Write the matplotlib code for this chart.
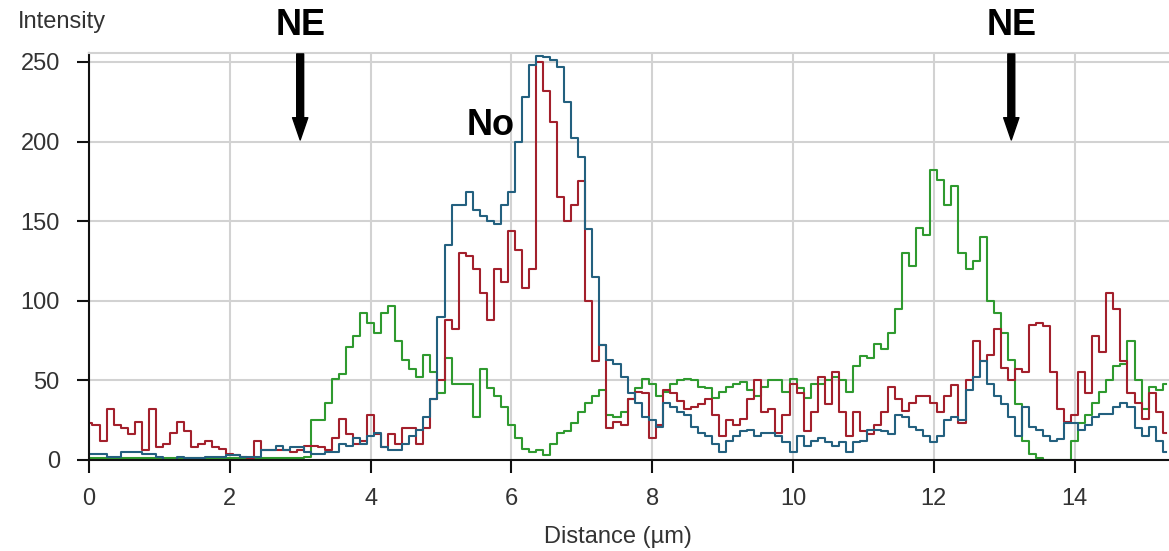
import numpy as np
import matplotlib
matplotlib.use('Agg')
import matplotlib.pyplot as plt

# intensity profiles sampled every 0.1 um (0.0 .. 15.3)
step = 0.1
green = [1, 1, 1, 1, 1, 1, 1, 1, 1, 1,
         1, 1, 1, 1, 1, 1, 1, 1, 1, 1,
         1, 1, 1, 1, 1, 1, 1, 1, 1, 1,
         1, 2, 25, 25, 36, 51, 54, 71, 78, 92,
         86, 80, 92, 97, 75, 63, 57, 52, 66, 55,
         42, 64, 48, 48, 48, 27, 57, 45, 40, 33,
         22, 14, 7, 5, 6, 3, 10, 17, 18, 23,
         30, 36, 40, 44, 28, 27, 30, 38, 45, 51,
         48, 40, 43, 48, 50, 51, 50, 46, 45, 39,
         43, 46, 48, 49, 44, 40, 46, 50, 50, 43,
         51, 45, 39, 48, 48, 50, 52, 50, 43, 59,
         65, 64, 73, 70, 80, 95, 130, 122, 146, 141,
         182, 176, 160, 172, 130, 120, 125, 140, 100, 92,
         80, 63, 35, 12, 4, 1, 0, 0, 0, 0,
         12, 23, 28, 36, 43, 50, 59, 60, 75, 50,
         32, 46, 44, 48]
red = [23, 22, 12, 32, 22, 20, 16, 24, 6, 32,
       8, 10, 17, 24, 18, 8, 10, 12, 8, 7,
       4, 3, 2, 1, 12, 6, 6, 6, 6, 5,
       6, 9, 9, 8, 6, 14, 26, 16, 10, 12,
       28, 16, 8, 16, 10, 20, 20, 10, 20, 38,
       50, 88, 82, 130, 128, 120, 105, 88, 120, 112,
       144, 132, 108, 120, 250, 232, 212, 165, 150, 160,
       175, 100, 62, 72, 20, 24, 22, 38, 43, 42,
       14, 22, 44, 42, 37, 32, 33, 35, 38, 28,
       15, 25, 22, 26, 38, 50, 30, 32, 17, 28,
       48, 42, 18, 30, 52, 35, 55, 30, 15, 30,
       18, 16, 22, 30, 46, 38, 31, 36, 40, 40,
       36, 30, 40, 47, 23, 50, 75, 62, 66, 82,
       58, 50, 57, 55, 85, 86, 84, 55, 32, 24,
       28, 55, 42, 78, 68, 105, 95, 62, 42, 36,
       26, 42, 30, 17]
blue = [4, 4, 4, 2, 2, 5, 5, 5, 4, 4,
        2, 0, 0, 2, 1, 1, 1, 2, 2, 2,
        3, 3, 2, 2, 2, 6, 6, 9, 6, 8,
        8, 5, 4, 4, 5, 5, 10, 9, 14, 10,
        15, 17, 8, 6, 6, 10, 15, 19, 27, 38,
        90, 135, 160, 160, 168, 157, 153, 150, 148, 160,
        168, 200, 228, 248, 254, 253, 251, 247, 225, 202,
        190, 145, 115, 72, 63, 60, 52, 42, 36, 27,
        25, 21, 36, 33, 30, 28, 21, 17, 15, 10,
        5, 12, 15, 18, 19, 15, 17, 17, 15, 11,
        5, 15, 9, 12, 14, 11, 9, 11, 5, 11,
        12, 19, 19, 18, 16, 28, 27, 21, 19, 15,
        11, 15, 25, 27, 25, 44, 52, 62, 48, 40,
        35, 27, 15, 33, 21, 19, 15, 12, 13, 23,
        23, 19, 22, 27, 29, 29, 33, 36, 33, 20,
        15, 21, 12, 5]

# marker positions
ne_positions = [3.0, 13.1]
no_label = (5.7, 210)

plt.rcParams['font.family'] = ['Liberation Sans', 'DejaVu Sans']

fig = plt.figure(figsize=(11.69, 5.51), dpi=100)
ax = fig.add_axes([0.0761, 0.1652, 0.9239, 0.7386])

dist = np.arange(len(green))*step
ax.plot(dist, green, '-', color='#2f9a2f', lw=1.5, drawstyle='steps-mid')
ax.plot(dist, red, '-', color='#a3202c', lw=1.5, drawstyle='steps-mid')
ax.plot(dist, blue, '-', color='#23607f', lw=1.5, drawstyle='steps-mid')

ax.set_xlim(0, 15.34)
ax.set_ylim(0, 255.6)
ax.set_xticks(np.arange(0, 15, 2))
ax.set_yticks(np.arange(0, 251, 50))
ax.grid(True, color='#d2d2d2', lw=1.5)
ax.set_axisbelow(True)
ax.spines['right'].set_visible(False)
ax.spines['top'].set_color('#d2d2d2')
ax.spines['top'].set_linewidth(1.5)
for s in ('left', 'bottom'):
    ax.spines[s].set_linewidth(1.5)
    ax.spines[s].set_color('#111111')
ax.tick_params(direction='out', length=9, width=1.5, colors='#111111',
               labelcolor='#333333', labelsize=17)
ax.tick_params(axis='y', pad=12)
ax.tick_params(axis='x', pad=11)

ax.set_xlabel('Distance (µm)', fontsize=17, color='#333333', va='center')
ax.xaxis.set_label_coords(0.49, -0.19)
fig.text(0.015, 0.96, 'Intensity', fontsize=17, color='#333333',
         ha='left', va='center')

for x in ne_positions:
    ax.annotate('NE', xy=(x, 201), xytext=(x, 273), textcoords='data',
                ha='center', va='center', fontsize=26, fontweight='bold',
                annotation_clip=False,
                arrowprops=dict(arrowstyle='simple,head_width=0.55,head_length=0.8,tail_width=0.25',
                                mutation_scale=20, color='black', shrinkA=6, shrinkB=0))
ax.text(no_label[0], no_label[1], 'No', fontsize=26, fontweight='bold',
        ha='center', va='center')

fig.savefig('out.png', dpi=100)
